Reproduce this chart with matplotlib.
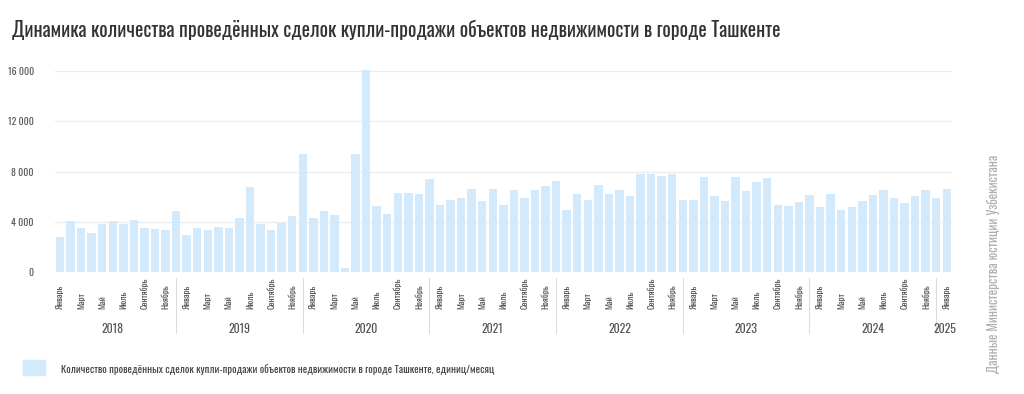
import matplotlib.pyplot as plt
import numpy as np

plt.rcParams['font.family'] = ['Oswald', 'Roboto Condensed', 'DejaVu Sans']
plt.rcParams['font.stretch'] = 'condensed'
plt.rcParams['font.weight'] = 'light'

# monthly deals, January 2018 .. January 2025
deals_2018 = [2800, 4060, 3480, 3140, 3850, 4060, 3850, 4160, 3480, 3400, 3320, 4840]
deals_2019 = [2930, 3480, 3320, 3560, 3480, 4320, 6800, 3800, 3320, 3930, 4450, 9420]
deals_2020 = [4320, 4840, 4500, 340, 9420, 16100, 5240, 4580, 6280, 6280, 6200, 7400]
deals_2021 = [5370, 5710, 5920, 6600, 5630, 6570, 5370, 6490, 5920, 6490, 6880, 7250]
deals_2022 = [4950, 6200, 5710, 6910, 6200, 6490, 6070, 7770, 7770, 7620, 7770, 5760]
deals_2023 = [5760, 7590, 6070, 5630, 7590, 6410, 7200, 7460, 5370, 5240, 5550, 6150]
deals_2024 = [5160, 6200, 4900, 5160, 5630, 6150, 6540, 5890, 5500, 6020, 6540, 5890]
deals_2025 = [6620]

years = ['2018', '2019', '2020', '2021', '2022', '2023', '2024', '2025']
month_labels = ['Январь', 'Март', 'Май', 'Июль', 'Сентябрь', 'Ноябрь']
y_ticks = [0, 4000, 8000, 12000, 16000]
y_tick_labels = ['0', '4 000', '8 000', '12 000', '16 000']

title = 'Динамика количества проведённых сделок купли-продажи объектов недвижимости в городе Ташкенте'
legend_text = 'Количество проведённых сделок купли-продажи объектов недвижимости в городе Ташкенте, единиц/месяц'
source_text = 'Данные Министерства юстиции Узбекистана'

values = np.array(deals_2018 + deals_2019 + deals_2020 + deals_2021 +
                  deals_2022 + deals_2023 + deals_2024 + deals_2025)
x = np.arange(len(values))

bar_color = '#d3eafc'

fig = plt.figure(figsize=(10.24, 3.94), dpi=100)
ax = fig.add_axes([0.0534, 0.3096, 0.8763, 0.5198])

ax.bar(x, values, width=0.8, color=bar_color, zorder=2)
ax.set_xlim(-0.5, len(values) - 0.5)
ax.set_ylim(0, 16300)

ax.set_yticks(y_ticks)
ax.set_yticklabels(y_tick_labels, fontsize=7, color='#555555')
ax.tick_params(axis='y', length=0, pad=15)
for t in y_ticks:
    if t > 0:
        ax.axhline(t, color='#ececec', lw=0.9, zorder=1)

ax.set_xticks([])
for s in ax.spines.values():
    s.set_visible(False)

trans = ax.get_xaxis_transform()
# month labels every second month
for i in range(len(values)):
    if i % 2 == 0:
        ax.text(i, -0.18, month_labels[(i % 12) // 2], transform=trans,
                rotation=90, ha='center', va='bottom', fontsize=6.5, color='#555555')

# year separators and labels
for k in range(1, 8):
    ax.plot([12 * k - 1, 12 * k - 1], [-0.03, -0.3], transform=trans,
            color='#dddddd', lw=0.8, clip_on=False)
for k, yr in enumerate(years):
    if k < 7:
        xc = 12 * k + 5
    else:
        xc = 83.8
    ax.text(xc, -0.28, yr, transform=trans, ha='center', va='center',
            fontsize=8.5, color='#555555')

fig.text(0.012, 0.925, title, fontsize=14.2, color='#333333', ha='left', va='center')

# legend
fig.patches.append(plt.Rectangle((23 / 1024, 1 - 375 / 394), 22 / 1024, 15 / 394,
                                 transform=fig.transFigure, color=bar_color))
fig.text(61 / 1024, 1 - 369 / 394, legend_text, fontsize=7.6, color='#444444',
         ha='left', va='center')

fig.text(993 / 1024, 1 - 373 / 394, source_text, rotation=90, fontsize=9.4,
         color='#b0b0b0', ha='center', va='bottom')

fig.savefig('out.png', dpi=100, facecolor='white')
